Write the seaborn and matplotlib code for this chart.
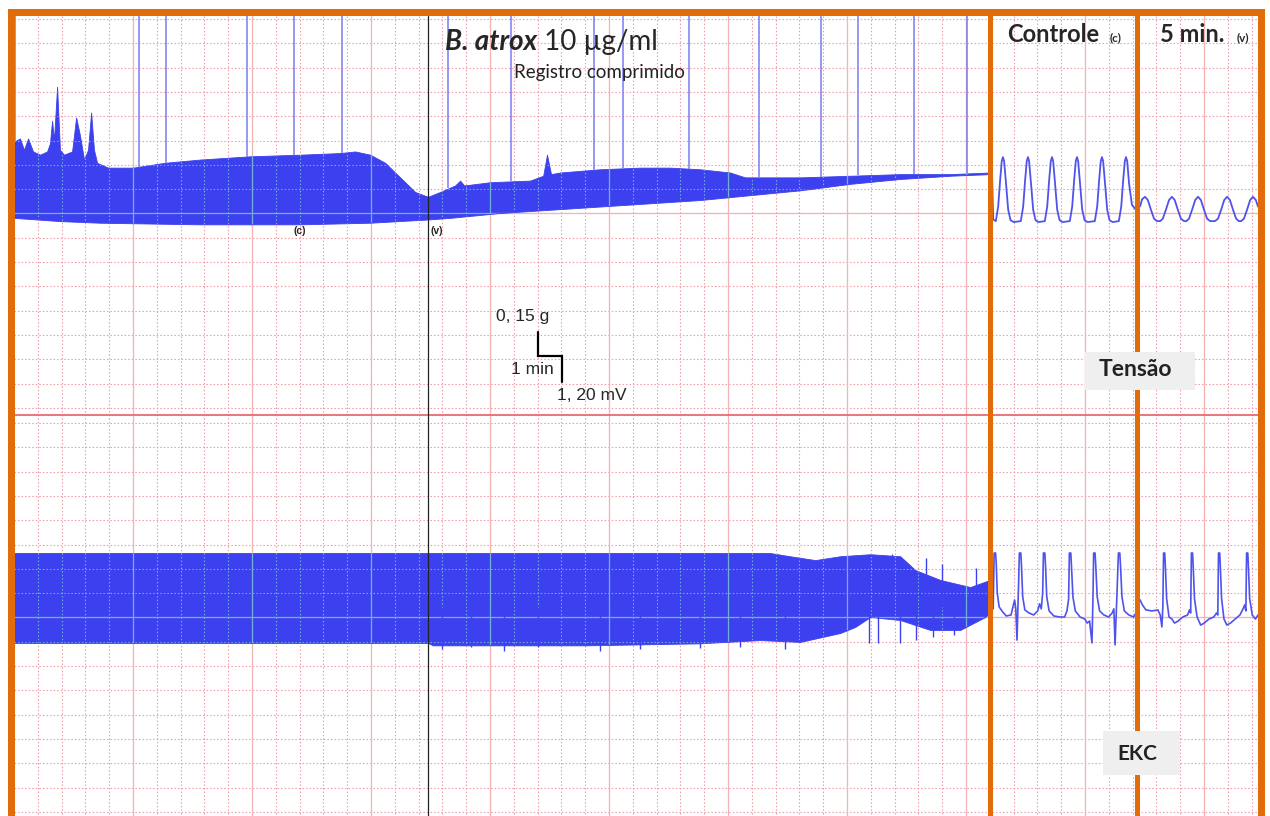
import numpy as np
import matplotlib
matplotlib.use("Agg")
import matplotlib.pyplot as plt
import seaborn as sns
from matplotlib.collections import LineCollection
from matplotlib.patches import Rectangle

sns.set_theme(style="white")
plt.rcParams['font.family'] = ['Lato', 'DejaVu Sans']

# ------------------------------------------------------------------ data
# compressed record, tension envelope (time in min, tension in g)
ten_up_t = [0.0, 0.25, 0.42, 0.59, 0.80, 1.09, 1.39, 1.51, 1.60, 1.68, 1.81, 1.93,
            2.10, 2.44, 2.61, 2.77, 2.94, 3.11, 3.24, 3.36, 3.49, 3.95, 4.45, 5.0,
            6.34, 7.82, 9.92, 12.02, 13.70, 14.33, 14.96, 15.59, 16.22, 16.85, 17.39,
            17.90, 18.53, 18.74, 18.91, 20.0, 21.68, 22.23, 22.39, 22.56, 22.94, 24.62,
            26.30, 27.56, 28.82, 30.08, 30.71, 33.03, 35.13, 37.23, 39.33, 41.0]
ten_up_g = [0.44, 0.46, 0.39, 0.46, 0.38, 0.36, 0.38, 0.43, 0.57, 0.45, 0.78, 0.39,
            0.36, 0.38, 0.59, 0.48, 0.33, 0.39, 0.62, 0.39, 0.31, 0.28, 0.28, 0.28,
            0.31, 0.33, 0.35, 0.36, 0.37, 0.38, 0.36, 0.31, 0.22, 0.13, 0.10,
            0.13, 0.17, 0.20, 0.17, 0.19, 0.20, 0.23, 0.36, 0.24, 0.25, 0.27,
            0.28, 0.28, 0.27, 0.25, 0.22, 0.22, 0.23, 0.24, 0.24, 0.25]
ten_lo_t = [0.0, 1.93, 3.61, 7.82, 12.02, 14.96, 17.39, 18.32, 20.42, 22.52, 24.62,
            26.72, 28.82, 30.92, 33.03, 35.13, 37.23, 39.33, 41.0]
ten_lo_g = [-0.03, -0.05, -0.06, -0.07, -0.07, -0.06, -0.04, -0.03, 0.0, 0.02, 0.04,
            0.06, 0.08, 0.11, 0.14, 0.18, 0.21, 0.23, 0.24]
# event markers drawn by the recorder (min)
marker_t = [0.04, 5.25, 6.39, 9.79, 11.76, 13.78, 18.24, 20.88, 24.37, 25.59, 28.36,
            31.30, 33.91, 35.46, 37.82, 40.04]
c_time = 12.0    # (c) control sample
v_time = 17.4    # (v) venom added

# compressed record, EKC envelope (min, mV)
ekc_up_t = [0.0, 31.76, 32.6, 33.66, 34.7, 35.97, 37.23, 37.86, 38.91, 40.17, 41.0]
ekc_up_mv = [3.16, 3.16, 3.0, 2.81, 3.0, 3.1, 3.0, 2.32, 1.83, 1.48, 1.83]
ekc_lo_t = [0.0, 17.39, 17.6, 24.0, 28.8, 31.34, 33.03, 34.71, 35.34, 35.97, 37.23,
            38.49, 39.75, 40.8, 41.0]
ekc_lo_mv = [-1.28, -1.28, -1.4, -1.4, -1.3, -1.14, -1.23, -0.79, -0.49, 0.0, -0.15,
             -0.64, -0.64, 0.0, 0.2]
ekc_dn_t = [18.0, 19.2, 20.6, 22.0, 24.6, 26.3, 28.8, 30.5, 32.4, 35.9, 36.3, 37.2,
            37.9, 38.6, 39.5]
ekc_dn_mv = [-1.6, -1.5, -1.7, -1.5, -1.7, -1.6, -1.55, -1.5, -1.6, -1.3, -1.28, -1.3,
             -1.15, -1.0, -0.9]
ekc_upk_t = [36.9, 38.3, 39.0, 40.4]
ekc_upk_mv = [3.1, 2.9, 2.6, 2.4]

# expanded records (time in s)
ctrl_ten_s = [0.00, 0.05, 0.16, 0.26, 0.34, 0.41, 0.46, 0.51, 0.59, 0.68, 0.78, 0.91,
              1.21, 1.31, 1.39, 1.46, 1.51, 1.56, 1.64, 1.73, 1.83, 1.96,
              2.22, 2.32, 2.40, 2.47, 2.52, 2.57, 2.65, 2.74, 2.84, 2.97,
              3.27, 3.37, 3.45, 3.52, 3.57, 3.62, 3.70, 3.79, 3.89, 4.02,
              4.32, 4.42, 4.50, 4.57, 4.62, 4.67, 4.75, 4.84, 4.94, 5.07,
              5.33, 5.43, 5.51, 5.58, 5.63, 5.68, 5.76, 5.88, 6.05]
ctrl_ten_g = [0.25, -0.04, -0.05, 0.04, 0.20, 0.32, 0.345, 0.32, 0.18, 0.02, -0.045, -0.056,
              -0.05, 0.04, 0.20, 0.32, 0.345, 0.32, 0.18, 0.02, -0.045, -0.056,
              -0.05, 0.04, 0.20, 0.32, 0.345, 0.32, 0.18, 0.02, -0.045, -0.056,
              -0.05, 0.04, 0.20, 0.32, 0.345, 0.32, 0.18, 0.02, -0.045, -0.056,
              -0.05, 0.04, 0.20, 0.32, 0.345, 0.32, 0.18, 0.02, -0.045, -0.056,
              -0.05, 0.04, 0.20, 0.32, 0.345, 0.32, 0.18, 0.05, 0.02]
min5_ten_s = [0.0, 0.09, 0.21, 0.33, 0.46, 0.59, 0.71, 0.85, 0.96, 1.09, 1.22, 1.34,
              1.46, 1.59, 1.72, 1.85, 1.95, 2.06, 2.19, 2.32, 2.44, 2.56, 2.69, 2.82,
              2.95, 3.15, 3.28, 3.41, 3.54, 3.66, 3.78, 3.91, 4.04, 4.15, 4.25, 4.37,
              4.50, 4.63, 4.75, 4.87, 4.96]
min5_ten_g = [0.04, 0.085, 0.10, 0.08, 0.02, -0.035, -0.05, -0.05, -0.035, 0.02, 0.08, 0.10,
              0.08, 0.02, -0.035, -0.05, -0.05, -0.035, 0.02, 0.08, 0.10, 0.08, 0.02, -0.035,
              -0.05, -0.05, -0.035, 0.02, 0.08, 0.10, 0.08, 0.02, -0.035, -0.05, -0.05, -0.035,
              0.02, 0.08, 0.10, 0.08, 0.04]
ctrl_ekc_s = [0.00, 0.05, 0.09, 0.15, 0.18, 0.22, 0.30, 0.45, 0.60, 0.80, 0.88, 0.95,
              1.00, 1.05, 1.10, 1.15, 1.21, 1.24, 1.29, 1.38, 1.55, 1.75, 1.92, 2.00,
              2.07, 2.13, 2.16, 2.22, 2.25, 2.30, 2.40, 2.60, 2.85, 3.05, 3.15, 3.22,
              3.25, 3.31, 3.34, 3.40, 3.50, 3.70, 3.90, 4.00, 4.10, 4.20, 4.24, 4.27,
              4.33, 4.36, 4.42, 4.52, 4.70, 4.90, 5.05, 5.12, 5.17, 5.24, 5.31, 5.37,
              5.40, 5.46, 5.56, 5.75, 5.95, 6.05]
ctrl_ekc_mv = [1.0, 0.4, 3.16, 3.16, 2.6, 1.2, 0.5, 0.25, 0.05, 0.1, 0.5, 0.84,
               0.4, -1.14, 0.9, 3.16, 3.16, 2.5, 1.0, 0.35, 0.2, 0.1, 0.3, 0.65,
               0.4, 1.2, 3.16, 3.16, 2.5, 1.0, 0.3, 0.05, 0.0, 0.0, 0.3, 0.9,
               3.16, 3.16, 2.5, 1.0, 0.3, 0.0, -0.1, -0.3, -0.2, -1.28, 0.8, 3.16,
               3.16, 2.5, 1.0, 0.3, 0.1, 0.0, 0.2, 0.4, -1.38, 0.8, 3.16, 3.16,
               2.5, 1.0, 0.3, 0.1, 0.0, 0.2]
min5_ekc_s = [0.00, 0.10, 0.25, 0.50, 0.75, 0.85, 0.92, 0.96, 0.99, 1.04, 1.07, 1.12,
              1.22, 1.34, 1.45, 1.60, 1.80, 2.00, 2.08, 2.13, 2.16, 2.21, 2.24, 2.29,
              2.40, 2.55, 2.70, 2.90, 3.10, 3.22, 3.27, 3.30, 3.35, 3.38, 3.43, 3.53,
              3.65, 3.80, 4.00, 4.20, 4.33, 4.40, 4.45, 4.48, 4.53, 4.56, 4.61, 4.72,
              4.85, 4.96]
min5_ekc_mv = [0.85, 0.6, 0.35, 0.3, 0.35, 0.1, -0.49, 0.5, 3.16, 3.16, 2.4, 0.9,
               0.0, -0.1, -0.3, -0.2, 0.0, 0.1, 0.35, 0.2, 3.16, 3.16, 2.4, 0.9,
               0.0, -0.4, -0.3, -0.1, 0.0, 0.2, 0.1, 3.16, 3.16, 2.4, 0.9, -0.1,
               -0.4, -0.3, -0.1, 0.1, 0.4, 0.6, 0.3, 3.16, 3.16, 2.4, 0.9, 0.1,
               -0.1, 0.1]

# ------------------------------------------------------------------ layout
W, H = 1270, 816
fig = plt.figure(figsize=(W / 100, H / 100), dpi=100)
fig.patch.set_facecolor('white')

def px_axes(x0, y0, x1, y1, z):
    ax = fig.add_axes([x0 / W, 1 - y1 / H, (x1 - x0) / W, (y1 - y0) / H], zorder=z)
    ax.set_axis_off()
    ax.patch.set_alpha(0)
    return ax

bg = px_axes(0, 0, W, H, 0)
bg.set_xlim(0, W); bg.set_ylim(H, 0)
top = px_axes(0, 0, W, H, 5)
top.set_xlim(0, W); top.set_ylim(H, 0)

# chart paper grid (pixels)
minor_x = np.arange(14, 1262, 23.8)
rows = np.concatenate([19 + 24.3 * np.arange(17), 423 + 24.3 * np.arange(17)])
major_x = 14 + 119 * np.arange(1, 11)
major_y = [213, 617]

def grid_collections(minor_col, major_col, clip=None, host=None):
    segs_min = [[(x, 16), (x, 816)] for x in minor_x] + [[(14, y), (1260, y)] for y in rows]
    segs_maj = [[(x, 16), (x, 816)] for x in major_x] + [[(14, y), (1260, y)] for y in major_y]
    host = host or bg
    lc1 = LineCollection(segs_min, colors=minor_col, linewidths=0.8,
                         linestyles=[(0, (1.3, 1.9))], transform=bg.transData)
    lc2 = LineCollection(segs_maj, colors=major_col, linewidths=0.9, transform=bg.transData)
    for lc in (lc1, lc2):
        host.add_collection(lc, autolim=False)
        if clip is not None:
            lc.set_clip_path(clip.get_paths()[0], clip.get_transform())
    return lc1, lc2

grid_collections('#ef9aa4', '#f3b4b4')
bg.plot([14, 1260], [415, 415], color='#e86a70', lw=1.3)

BLUE = '#3c40ee'
TRACE = '#4f53ec'

ten_ylim = (-(415 - 213) * 0.15 / 24.3, (213 - 16) * 0.15 / 24.3)
ekc_ylim = (-(816 - 617) * 1.2 / 24.3, (617 - 415) * 1.2 / 24.3)

# tension, compressed
axT = px_axes(14, 16, 990, 415, 1)
axT.set_xlim(0, 41.0); axT.set_ylim(*ten_ylim)
tt = np.union1d(ten_up_t, ten_lo_t)
polyT = axT.fill_between(tt, np.interp(tt, ten_lo_t, ten_lo_g), np.interp(tt, ten_up_t, ten_up_g),
                         color=BLUE, lw=0.6, edgecolor=BLUE)
grid_collections('#6fb2d6', '#6fb2d6', clip=polyT, host=axT)
mk_base = np.interp(marker_t, ten_up_t, ten_up_g)
axT.vlines(marker_t, mk_base, ten_ylim[1], colors='#7a7cf0', lw=1.1)
axT.axvline(v_time, color='#222222', lw=0.9)
axT.text(c_time, -0.11, '(c)', ha='center', va='center', fontsize=7.5, fontweight='bold',
         family='Liberation Sans')
axT.text(v_time + 0.1, -0.11, '(v)', ha='left', va='center', fontsize=7.5, fontweight='bold',
         family='Liberation Sans')

# scale bar
g_per_px = 0.15 / 24.3
mv_per_px = 1.2 / 24.3
sb_x, sb_y = 22.0, -0.883
axT.plot([sb_x, sb_x, sb_x + 1.0, sb_x + 1.0],
         [sb_y + 0.15, sb_y, sb_y, sb_y - 1.20 * g_per_px / mv_per_px * 1.07],
         color='black', lw=1.6, solid_joinstyle='miter')

# EKC, compressed
axE = px_axes(14, 415, 990, 816, 1)
axE.set_xlim(0, 41.0); axE.set_ylim(*ekc_ylim)
te = np.union1d(ekc_up_t, ekc_lo_t)
polyE = axE.fill_between(te, np.interp(te, ekc_lo_t, ekc_lo_mv), np.interp(te, ekc_up_t, ekc_up_mv),
                         color=BLUE, lw=0.6, edgecolor=BLUE)
grid_collections('#6fb2d6', '#6fb2d6', clip=polyE, host=axE)
axE.vlines(ekc_dn_t, ekc_dn_mv, 0.5, colors=BLUE, lw=1.0)
axE.vlines(ekc_upk_t, 0.5, ekc_upk_mv, colors=BLUE, lw=1.0)
axE.axvline(v_time, color='#222222', lw=0.9)

# expanded panels
for (x0, x1, xs, ts, es, ems, xmax) in [
        (992, 1136, ctrl_ten_s, ctrl_ten_g, ctrl_ekc_s, ctrl_ekc_mv, 6.05),
        (1140, 1258, min5_ten_s, min5_ten_g, min5_ekc_s, min5_ekc_mv, 4.96)]:
    a = px_axes(x0, 16, x1, 415, 1)
    a.set_xlim(0, xmax); a.set_ylim(*ten_ylim)
    sns.lineplot(x=xs, y=ts, ax=a, color=TRACE, lw=1.3, sort=False)
    a.set_axis_off()
    b = px_axes(x0, 415, x1, 816, 1)
    b.set_xlim(0, xmax); b.set_ylim(*ekc_ylim)
    sns.lineplot(x=es, y=ems, ax=b, color=TRACE, lw=1.2, sort=False)
    b.set_axis_off()

# frame / separators
OR = '#e36c0a'
top.add_patch(Rectangle((8, 9), 7, 807, color=OR, lw=0))
top.add_patch(Rectangle((8, 9), 1257, 7, color=OR, lw=0))
top.add_patch(Rectangle((1258, 9), 7, 807, color=OR, lw=0))
top.add_patch(Rectangle((988, 16), 5, 800, color=OR, lw=0))
top.add_patch(Rectangle((1135, 16), 5, 800, color=OR, lw=0))

# labels
t1 = top.text(445, 50, 'B. atrox', fontsize=20, fontweight='bold', style='italic',
              ha='left', va='baseline')
top.annotate(' 10 \u00b5g/ml', xy=(1, 0), xycoords=t1, va='bottom', ha='left', fontsize=20)
top.text(514, 78, 'Registro comprimido', fontsize=13.5, ha='left', va='baseline', color='#222222')
top.text(1007, 42, 'Controle', fontsize=17, fontweight='bold', ha='left', va='baseline')
top.text(1110, 41, '(c)', fontsize=8.5, fontweight='bold', ha='left', va='baseline')
top.text(1160, 42, '5 min.', fontsize=17, fontweight='bold', ha='left', va='baseline')
top.text(1237, 41, '(v)', fontsize=8.5, fontweight='bold', ha='left', va='baseline')

for txt, xy in [('0, 15 g', (523, 316)), ('1 min', (532, 370)), ('1, 20 mV', (592, 395))]:
    top.text(*xy, txt, fontsize=12.5, ha='center', va='center', family='Liberation Sans')

top.add_patch(Rectangle((1085, 352), 110, 38, facecolor='#efefef', edgecolor='none'))
top.text(1135, 370, 'Tens\u00e3o', fontsize=16.5, fontweight='bold', ha='center', va='center',
         color='#222222')
top.add_patch(Rectangle((1103, 731), 77, 44, facecolor='#efefef', edgecolor='none'))
top.text(1137, 754, 'EKC', fontsize=15, fontweight='bold', ha='center', va='center',
         color='#222222')

fig.savefig('out.png', dpi=100)
